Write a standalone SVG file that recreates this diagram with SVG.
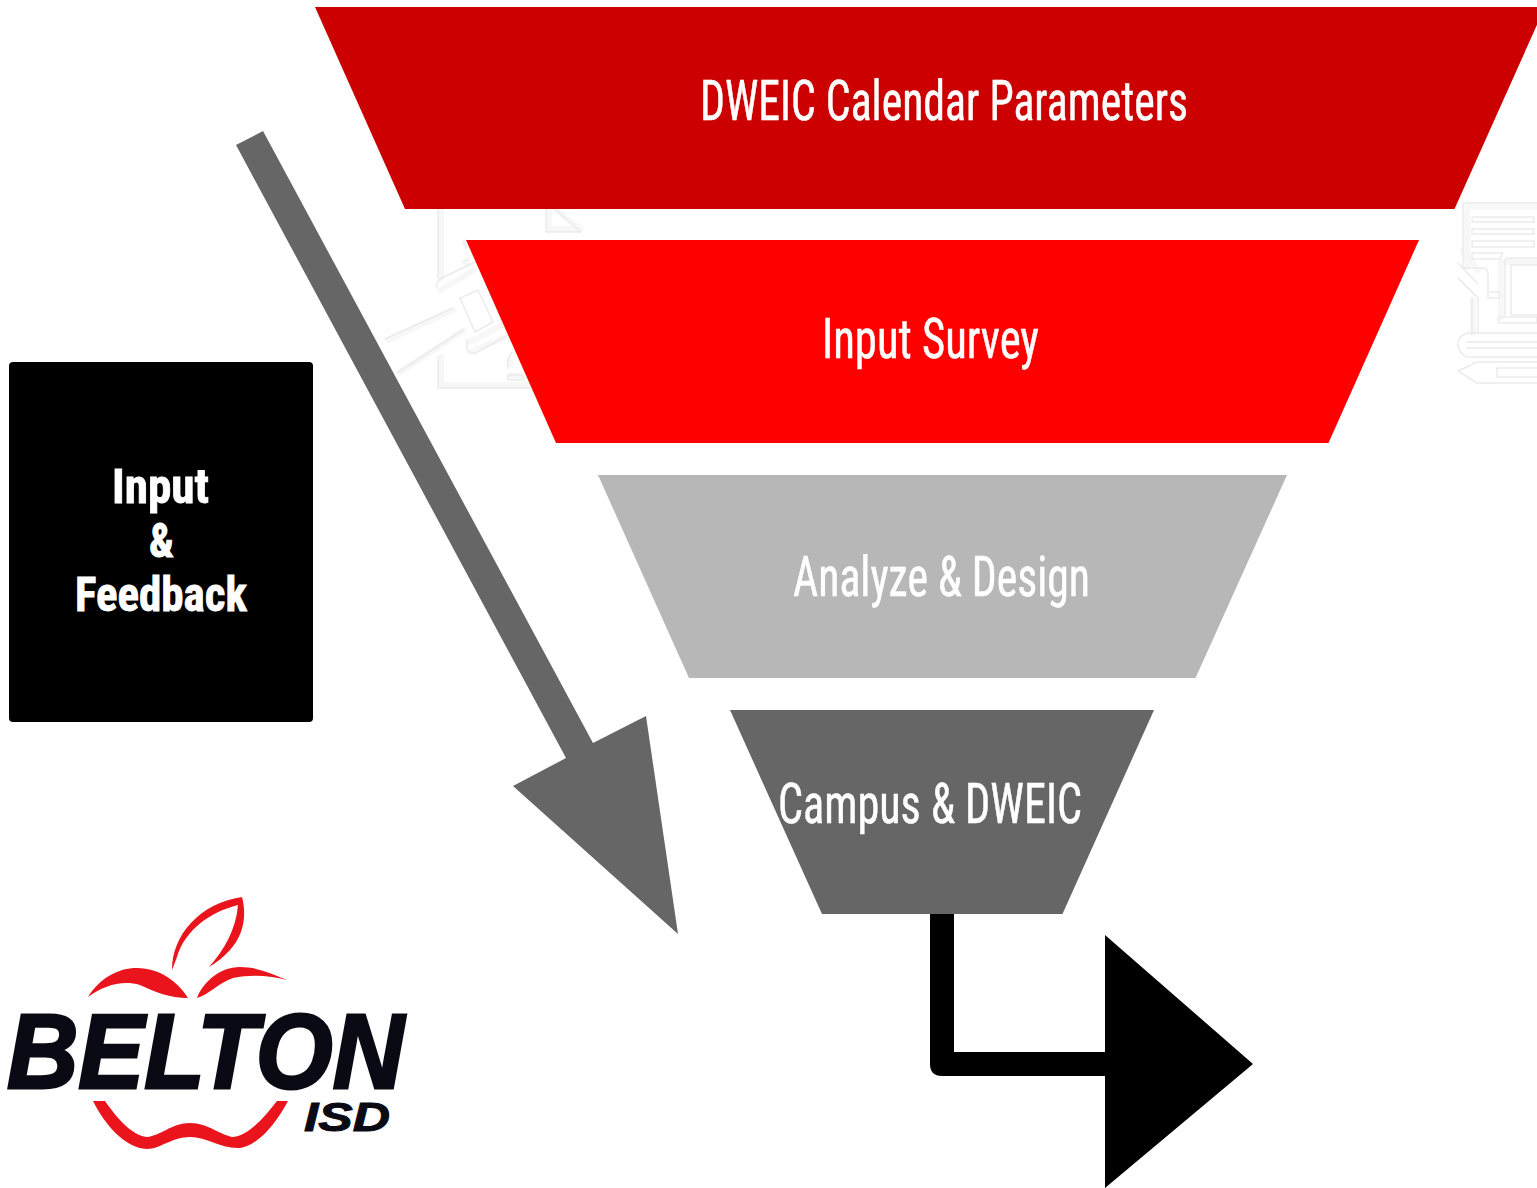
<svg xmlns="http://www.w3.org/2000/svg" width="1537" height="1188" viewBox="0 0 1537 1188">
<style>
.t{font-family:"Roboto Condensed","Liberation Sans Narrow","Roboto",sans-serif;fill:#fff;stroke:#fff;stroke-width:.5;font-size:55px}
.b{font-family:"Roboto Condensed","Liberation Sans Narrow","Roboto",sans-serif;fill:#fff;stroke:#fff;stroke-width:.8;font-size:49px;font-weight:700}
.bg{fill:none;stroke:#f7f7f7;stroke-width:6;stroke-linecap:round;stroke-linejoin:round}
.f{fill:none;stroke:#ebebeb;stroke-width:1.5;stroke-linecap:round;stroke-linejoin:round}
.l{font-family:"Liberation Sans",sans-serif;font-weight:700;font-style:italic;fill:#0a0a14;stroke:#0a0a14}
.r{fill:#ea141c}
</style>
<rect width="1537" height="1188" fill="#fff"/>
<g id="icon-left">
<path class="bg" d="M441 209V278M441 357V385H530M549 209V229H580L555 209M388 340L453 310M400 372L463 331M441 290L474 270M470 342L508 322M470 352L508 336M466 242V244M466 262V264M510 360V364M510 376H522"/>
<path class="f" d="M438 209V278M438 357V388H530M546 208V232H581L555 209M385 339L453 308M397 373L463 330M437 288Q436 281 442 278L475 262M460 298L478 290L493 322L475 332ZM467 340V348Q468 354 476 353L508 335M463 242L467 248M463 262L469 258M508 368Q506 360 512 352M508 375H523V380H508Z"/>
</g>
<g id="icon-right">
<path class="bg" d="M1537 207H1467V266M1501 262V318M1537 262H1505M1463 250L1478 270M1473 300V333"/>
<path class="f" d="M1537 203H1463V268H1483Q1488 268 1488 275V298H1499V292H1490M1505 315V262Q1505 258 1510 258H1537M1511 265H1537M1511 265V315H1537M1499 317H1537V323H1499Q1497 320 1499 317M1478 298V333M1472 298V333"/>
<path class="f" d="M1472 217H1534V222H1472ZM1472 229H1534V234H1472ZM1472 241H1534V247H1472ZM1472 253H1503L1500 259H1472Z"/>
<path class="f" d="M1467 333H1537M1467 342H1537M1467 348H1537M1467 357H1537M1467 333Q1456 338 1458 346Q1460 354 1467 357M1458 263L1478 284M1478 298L1458 278"/>
<path class="f" d="M1477 362H1537M1477 383H1537M1477 362L1458 371L1477 383M1497 368H1537M1497 377H1537M1497 368V377"/>
</g>
<g id="funnel-1"><polygon points="315,7 1545,7 1454.5,209 405,209" fill="#cc0000"/><text class="t" x="700" y="120" textLength="488" lengthAdjust="spacingAndGlyphs">DWEIC Calendar Parameters</text></g>
<g id="funnel-2"><polygon points="466,240 1419,240 1328.5,443 556,443" fill="#ff0000"/><text class="t" x="822" y="358" textLength="217" lengthAdjust="spacingAndGlyphs">Input Survey</text></g>
<g id="funnel-3"><polygon points="598,475 1287,475 1195.5,678 689,678" fill="#b7b7b7"/><text class="t" x="793" y="596" textLength="297" lengthAdjust="spacingAndGlyphs">Analyze &amp; Design</text></g>
<g id="funnel-4"><polygon points="730,710 1154,710 1062.5,914 822,914" fill="#666666"/><text class="t" x="778" y="823" textLength="304" lengthAdjust="spacingAndGlyphs">Campus &amp; DWEIC</text></g>
<g id="side-box"><rect x="9" y="362" width="304" height="360" rx="4" fill="#000"/><text class="b" x="112" y="503" textLength="97" lengthAdjust="spacingAndGlyphs">Input</text><text class="b" x="149" y="557" textLength="25" lengthAdjust="spacingAndGlyphs">&amp;</text><text class="b" x="75" y="611" textLength="172" lengthAdjust="spacingAndGlyphs">Feedback</text></g>
<g id="connectors">
<polygon points="236,145 263,131 593,743 646,716 678,934 513,786 566,758" fill="#666666"/>
<path d="M930 914V1064Q930 1076 942 1076H1105V1188L1253 1064L1105 935V1052H954V914Z" fill="#000"/>
</g>
<g id="logo">
<path class="r" d="M172 970C172 935 200 903 242 897C248 920 243 947 209 967C224 950 236 930 238 905C210 912 185 930 177 957Z"/>
<path class="r" d="M88 997C100 978 118 968 137 968C160 968 178 982 188 998C170 998 155 992 140 985C122 980 105 985 88 997Z"/>
<path class="r" d="M197 998C203 982 220 967 240 967C258 967 272 974 287 980C272 976 252 974 233 978C218 983 210 994 197 998Z"/>
<path class="r" d="M93 1101H105C115 1115 130 1135 147 1137C160 1136 172 1123 190 1123C208 1123 222 1136 233 1137C250 1135 266 1115 277 1101H288C278 1120 260 1145 240 1148C220 1149 208 1137 190 1137C172 1137 160 1149 147 1149C125 1148 105 1125 93 1101Z"/>
<text class="l" x="7" y="1088" font-size="106" stroke-width="3" textLength="397" lengthAdjust="spacingAndGlyphs">BELTON</text>
<text class="l" x="304" y="1131" font-size="41" stroke-width="1" textLength="86" lengthAdjust="spacingAndGlyphs">ISD</text>
</g>
</svg>
